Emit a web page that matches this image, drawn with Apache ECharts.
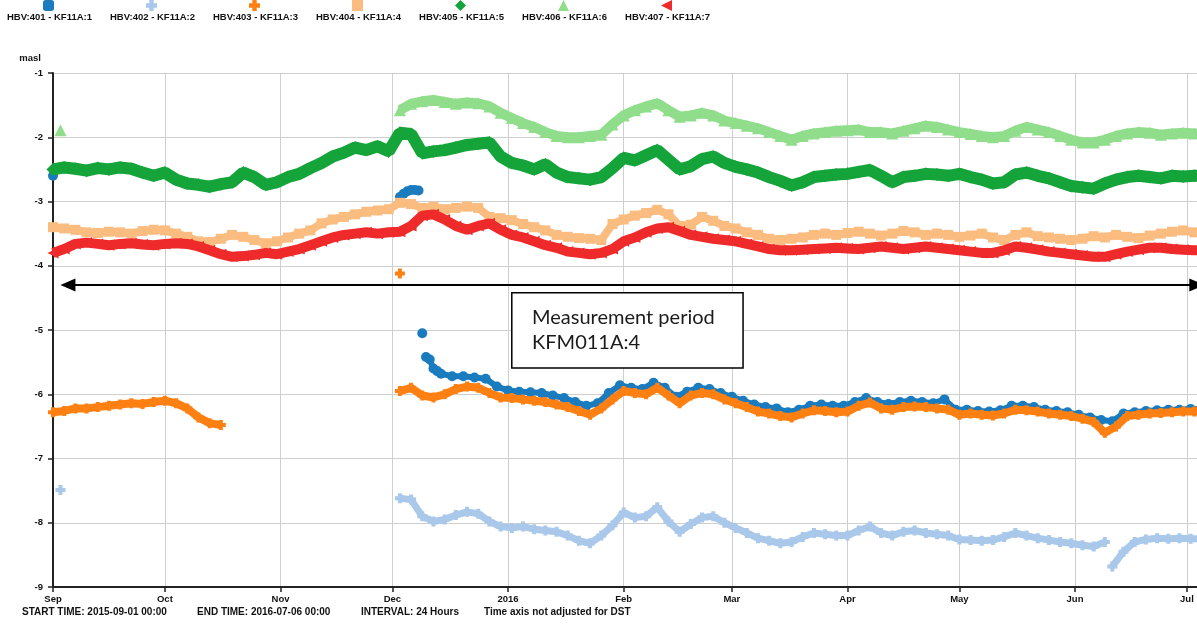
<!DOCTYPE html>
<html>
<head>
<meta charset="utf-8">
<title>HBV groundwater levels KF11A</title>
<script src="https://cdn.jsdelivr.net/npm/echarts@6/dist/echarts.min.js"></script>
<style>
  html, body { margin: 0; padding: 0; background: #fff; }
  #chart { width: 1197px; height: 624px; }
</style>
</head>
<body>
<div id="chart"></div>
<script>
// ---- Series names and tick labels ----
const seriesNames = ['HBV:401 - KF11A:1', 'HBV:402 - KF11A:2', 'HBV:403 - KF11A:3', 'HBV:404 - KF11A:4',
                     'HBV:405 - KF11A:5', 'HBV:406 - KF11A:6', 'HBV:407 - KF11A:7'];
const monthLabels = ['Jan', 'Feb', 'Mar', 'Apr', 'May', 'Jun', 'Jul', 'Aug', 'Sep', 'Oct', 'Nov', 'Dec'];
const axisStart = '2015-09-01';
const footerTexts = ['START TIME: 2015-09-01 00:00', 'END TIME: 2016-07-06 00:00', 'INTERVAL: 24 Hours', 'Time axis not adjusted for DST'];
const annotationLines = ['Measurement period', 'KFM011A:4'];

// ---- Levels (masl). Each block starts at the given date with a fixed step in days ----
// HBV:401
const hbv401Sep = [-2.60];
const hbv401DecHigh = [-2.93, -2.88, -2.84, -2.82, -2.82, -2.83];
const hbv401Dec9 = [-5.05];
const hbv401DecFall = [-5.42, -5.46, -5.60, -5.64];
const hbv401Main = [
  -5.68, -5.72, -5.72, -5.74, -5.76, -5.88, -5.94, -5.96, -5.97, -5.98,
  -6.02, -6.06, -6.12, -6.18, -6.14, -5.98, -5.86, -5.90, -5.92, -5.82,
  -5.90, -6.04, -5.96, -5.90, -5.92, -5.98, -6.04, -6.10, -6.16, -6.20,
  -6.22, -6.28, -6.24, -6.18, -6.16, -6.18, -6.18, -6.12, -6.06, -6.12,
  -6.15, -6.12, -6.10, -6.12, -6.14, -6.08, -6.24, -6.24, -6.26, -6.27,
  -6.25, -6.18, -6.18, -6.20, -6.24, -6.26, -6.28, -6.32, -6.36, -6.40,
  -6.42, -6.30, -6.28, -6.26, -6.25, -6.24, -6.24, -6.23, -6.23];
// HBV:402
const hbv402Sep = [-7.49];
const hbv402Main = [
  -7.62, -7.64, -7.90, -7.98, -7.95, -7.88, -7.83, -7.86, -7.98, -8.06,
  -8.08, -8.06, -8.10, -8.12, -8.14, -8.20, -8.28, -8.32, -8.20, -8.04,
  -7.84, -7.92, -7.90, -7.76, -7.98, -8.14, -8.02, -7.92, -7.90, -8.00,
  -8.08, -8.16, -8.24, -8.28, -8.32, -8.30, -8.22, -8.16, -8.18, -8.20,
  -8.20, -8.12, -8.06, -8.16, -8.20, -8.14, -8.12, -8.16, -8.18, -8.20,
  -8.26, -8.27, -8.28, -8.27, -8.22, -8.16, -8.20, -8.24, -8.27, -8.30,
  -8.32, -8.35, -8.37, -8.30];
const hbv402Jun = [-8.68, -8.45, -8.30, -8.26, -8.24, -8.25, -8.24, -8.25, -8.25];
// HBV:403
const hbv403Early = [-6.28, -6.26, -6.22, -6.22, -6.20, -6.18, -6.16, -6.14, -6.15, -6.12,
                     -6.10, -6.14, -6.22, -6.36, -6.45, -6.48];
const hbv403Dec3 = [-4.12];
const hbv403Main = [
  -5.95, -5.90, -6.02, -6.05, -6.00, -5.92, -5.88, -5.90, -5.98, -6.05,
  -6.06, -6.08, -6.10, -6.12, -6.16, -6.20, -6.26, -6.32, -6.22, -6.08,
  -5.95, -5.98, -6.00, -5.90, -6.02, -6.14, -6.02, -5.98, -6.00, -6.08,
  -6.14, -6.20, -6.27, -6.30, -6.34, -6.36, -6.30, -6.25, -6.26, -6.28,
  -6.27, -6.18, -6.13, -6.22, -6.24, -6.20, -6.19, -6.20, -6.22, -6.24,
  -6.32, -6.30, -6.32, -6.33, -6.30, -6.24, -6.25, -6.27, -6.30, -6.32,
  -6.34, -6.38, -6.43, -6.60, -6.50, -6.34, -6.32, -6.30, -6.29, -6.28,
  -6.27, -6.27, -6.27];
// HBV:404
const hbv404 = [
  -3.40, -3.42, -3.44, -3.48, -3.49, -3.47, -3.48, -3.50, -3.46, -3.44,
  -3.45, -3.50, -3.55, -3.62, -3.63, -3.58, -3.52, -3.55, -3.60, -3.65,
  -3.62, -3.56, -3.50, -3.45, -3.34, -3.28, -3.24, -3.20, -3.16, -3.14,
  -3.12, -3.02, -3.04, -3.10, -3.08, -3.12, -3.10, -3.08, -3.10, -3.24,
  -3.26, -3.29, -3.35, -3.40, -3.45, -3.52, -3.55, -3.57, -3.58, -3.60,
  -3.35, -3.28, -3.22, -3.18, -3.13, -3.20, -3.38, -3.36, -3.24, -3.30,
  -3.38, -3.42, -3.48, -3.52, -3.58, -3.60, -3.58, -3.56, -3.52, -3.50,
  -3.52, -3.49, -3.47, -3.50, -3.53, -3.50, -3.46, -3.48, -3.52, -3.50,
  -3.52, -3.55, -3.53, -3.50, -3.56, -3.60, -3.52, -3.48, -3.54, -3.56,
  -3.58, -3.60, -3.58, -3.54, -3.56, -3.52, -3.55, -3.57, -3.53, -3.50,
  -3.47, -3.45, -3.48, -3.47];
// HBV:405
const hbv405 = [
  -2.50, -2.47, -2.49, -2.52, -2.48, -2.50, -2.47, -2.49, -2.55, -2.60,
  -2.55, -2.66, -2.72, -2.74, -2.77, -2.73, -2.70, -2.55, -2.62, -2.74,
  -2.70, -2.62, -2.57, -2.48, -2.40, -2.30, -2.24, -2.16, -2.20, -2.14,
  -2.22, -1.93, -1.95, -2.25, -2.22, -2.20, -2.16, -2.12, -2.10, -2.08,
  -2.30, -2.40, -2.44, -2.50, -2.42, -2.55, -2.62, -2.64, -2.66, -2.62,
  -2.48, -2.32, -2.36, -2.28, -2.20, -2.35, -2.50, -2.45, -2.34, -2.30,
  -2.40, -2.46, -2.50, -2.55, -2.62, -2.68, -2.75, -2.70, -2.62, -2.60,
  -2.58, -2.57, -2.54, -2.51, -2.60, -2.70, -2.62, -2.60, -2.57, -2.58,
  -2.60, -2.57, -2.62, -2.66, -2.72, -2.70, -2.58, -2.55, -2.60, -2.64,
  -2.70, -2.76, -2.78, -2.80, -2.72, -2.66, -2.62, -2.60, -2.62, -2.64,
  -2.60, -2.61, -2.60, -2.60];
// HBV:406
const hbv406Sep = [-1.89];
const hbv406Main = [
  -1.58, -1.48, -1.44, -1.42, -1.45, -1.48, -1.46, -1.47, -1.52, -1.62,
  -1.70, -1.78, -1.84, -1.92, -1.98, -2.00, -2.00, -1.98, -1.96, -1.80,
  -1.66, -1.58, -1.52, -1.47, -1.58, -1.68, -1.66, -1.62, -1.66, -1.74,
  -1.78, -1.82, -1.86, -1.92, -1.98, -2.04, -1.98, -1.94, -1.92, -1.90,
  -1.89, -1.88, -1.92, -1.92, -1.94, -1.90, -1.86, -1.82, -1.84, -1.88,
  -1.92, -1.95, -1.98, -2.00, -1.98, -1.90, -1.84, -1.88, -1.92, -1.98,
  -2.04, -2.08, -2.08, -2.04, -1.98, -1.94, -1.92, -1.93, -1.96, -1.94,
  -1.93, -1.94, -1.94];
// HBV:407
const hbv407 = [
  -3.80, -3.74, -3.66, -3.64, -3.66, -3.68, -3.66, -3.65, -3.67, -3.68,
  -3.66, -3.65, -3.66, -3.70, -3.76, -3.82, -3.86, -3.85, -3.83, -3.80,
  -3.82, -3.78, -3.74, -3.68, -3.62, -3.56, -3.52, -3.50, -3.48, -3.50,
  -3.48, -3.47, -3.38, -3.22, -3.20, -3.28, -3.38, -3.44, -3.38, -3.34,
  -3.44, -3.52, -3.56, -3.62, -3.68, -3.72, -3.78, -3.80, -3.82, -3.80,
  -3.74, -3.62, -3.56, -3.48, -3.42, -3.40, -3.46, -3.52, -3.55, -3.58,
  -3.60, -3.62, -3.66, -3.70, -3.74, -3.76, -3.76, -3.75, -3.74, -3.73,
  -3.72, -3.73, -3.74, -3.72, -3.70, -3.72, -3.74, -3.72, -3.70, -3.72,
  -3.74, -3.76, -3.78, -3.80, -3.80, -3.76, -3.70, -3.72, -3.75, -3.78,
  -3.80, -3.82, -3.84, -3.86, -3.86, -3.82, -3.78, -3.75, -3.72, -3.72,
  -3.74, -3.75, -3.76, -3.75];

// ---- Record blocks per series: start date, step (days), values ----
const seriesBlocks = [
  [{ from: '2015-09-01', step: 1, values: hbv401Sep },
   { from: '2015-12-03', step: 1, values: hbv401DecHigh },
   { from: '2015-12-09', step: 1, values: hbv401Dec9 },
   { from: '2015-12-10', step: 1, values: hbv401DecFall },
   { from: '2015-12-14', step: 3, values: hbv401Main }],
  [{ from: '2015-09-03', step: 1, values: hbv402Sep },
   { from: '2015-12-03', step: 3, values: hbv402Main },
   { from: '2016-06-11', step: 3, values: hbv402Jun }],
  [{ from: '2015-09-01', step: 3, values: hbv403Early },
   { from: '2015-12-03', step: 1, values: hbv403Dec3 },
   { from: '2015-12-03', step: 3, values: hbv403Main }],
  [{ from: '2015-09-01', step: 3, values: hbv404 }],
  [{ from: '2015-09-01', step: 3, values: hbv405 }],
  [{ from: '2015-09-03', step: 1, values: hbv406Sep },
   { from: '2015-12-03', step: 3, values: hbv406Main }],
  [{ from: '2015-09-01', step: 3, values: hbv407 }]
];

// ---- Styling ----
const DAY = 86400000;
const PLUS = 'path://M3,0H7V3H10V7H7V10H3V7H0V3H3Z';
const LEFT_TRI = 'path://M0,5L10,0L10,10Z';
const seriesColors = ['#1a7bbf', '#a9c8ea', '#ff8012', '#fbbc80', '#14a43a', '#90dd8b', '#ef2a2a'];
const seriesSymbols = ['circle', PLUS, PLUS, 'rect', 'diamond', 'triangle', LEFT_TRI];
const legendIcons = ['roundRect', PLUS, PLUS, 'rect', 'diamond', 'triangle', LEFT_TRI];
const symbolSizes = [10, 10, 10, 10, 13, 12, 11];
const lineWidths = [6, 7, 8, 8, 12, 10, 10];
const FONT = '"Liberation Sans", Arial, sans-serif';

function dayTs(str) {
  const p = str.split('-');
  return new Date(+p[0], +p[1] - 1, +p[2]).getTime();
}

function blocksToData(blocks) {
  const out = [];
  blocks.forEach(function (b, k) {
    const t0 = dayTs(b.from);
    if (k > 0) out.push([t0, '-']);
    b.values.forEach(function (v, i) { out.push([t0 + i * b.step * DAY, v]); });
  });
  return out;
}

// Visible end of the time axis: the chart is cut at the right edge, a few days before the end time
const axisVisibleEnd = dayTs('2016-07-03') + 0.7 * DAY;

const series = seriesNames.map(function (name, i) {
  return {
    type: 'line',
    name: name,
    data: blocksToData(seriesBlocks[i]),
    symbol: seriesSymbols[i],
    symbolSize: symbolSizes[i],
    showSymbol: true,
    showAllSymbol: true,
    connectNulls: false,
    clip: false,
    itemStyle: { color: seriesColors[i] },
    lineStyle: { color: seriesColors[i], width: lineWidths[i] },
    emphasis: { disabled: true },
    z: 2 + i
  };
});

// Measurement period arrow and label box
series.push({
  type: 'line',
  name: 'period',
  data: [],
  silent: true,
  clip: false,
  z: 10,
  markLine: {
    silent: true,
    symbol: ['triangle', 'triangle'],
    symbolSize: [13, 15],
    label: { show: false },
    lineStyle: { color: '#000', width: 2, type: 'solid' },
    data: [[{ coord: [dayTs('2015-09-05'), -4.3] }, { coord: [axisVisibleEnd - 0.05 * DAY, -4.3] }]]
  },
  markArea: {
    silent: true,
    itemStyle: { color: '#fff', borderColor: '#000', borderWidth: 1.5 },
    label: {
      show: true,
      position: 'insideLeft',
      distance: 21,
      formatter: annotationLines.join('\n'),
      fontFamily: 'Lato, "Open Sans", sans-serif',
      fontSize: 20,
      lineHeight: 25,
      color: '#1b1b1b',
      align: 'left'
    },
    data: [[{ coord: [dayTs('2016-01-02'), -4.42] }, { coord: [dayTs('2016-03-04'), -5.59] }]]
  }
});

const chart = echarts.init(document.getElementById('chart'), null, { renderer: 'canvas' });

chart.setOption({
  animation: false,
  backgroundColor: '#fff',
  textStyle: { fontFamily: FONT },
  legend: [
    {
      // symbols row
      top: 0, left: 43, padding: 0,
      itemWidth: 11, itemHeight: 11, itemGap: 84.5,
      selectedMode: false,
      formatter: function () { return '\u00a0'; },
      textStyle: { fontSize: 9 },
      data: seriesNames.map(function (n, i) { return { name: n, icon: legendIcons[i] }; })
    },
    {
      // names row
      top: 12, left: 2, padding: 0,
      itemWidth: 0, itemHeight: 0, itemGap: 13,
      selectedMode: false,
      icon: 'rect',
      textStyle: { fontFamily: FONT, fontSize: 9.5, fontWeight: 'bold', color: '#111' },
      data: seriesNames
    }
  ],
  grid: { left: 53, top: 73, bottom: 37, right: 0, containLabel: false },
  xAxis: {
    type: 'time',
    min: dayTs(axisStart),
    max: axisVisibleEnd,
    splitNumber: 10,
    minInterval: 28 * DAY,
    maxInterval: 32 * DAY,
    axisLine: { lineStyle: { color: '#222', width: 2 } },
    axisTick: { show: true, length: 5, lineStyle: { color: '#222', width: 1.5 } },
    axisLabel: {
      fontFamily: FONT, fontSize: 9.5, fontWeight: 'bold', color: '#111', margin: 7,
      showMaxLabel: false,
      formatter: function (v) {
        const d = new Date(v);
        return d.getMonth() === 0 ? String(d.getFullYear()) : monthLabels[d.getMonth()];
      }
    },
    splitLine: { show: true, lineStyle: { color: '#cfcfcf', width: 1 } }
  },
  yAxis: {
    type: 'value',
    min: -9, max: -1, interval: 1,
    name: 'masl',
    nameLocation: 'end',
    nameGap: 10,
    nameTextStyle: { fontFamily: FONT, fontSize: 9.5, fontWeight: 'bold', color: '#111', align: 'right', padding: [0, 12, 0, 0] },
    axisLine: { show: true, lineStyle: { color: '#222', width: 2 } },
    axisTick: { show: true, length: 5, lineStyle: { color: '#222', width: 1.5 } },
    axisLabel: { fontFamily: FONT, fontSize: 9.5, fontWeight: 'bold', color: '#111', margin: 10 },
    splitLine: { show: true, lineStyle: { color: '#cfcfcf', width: 1 } }
  },
  graphic: footerTexts.map(function (txt, i) {
    const lefts = [22, 197, 361, 484];
    return {
      type: 'text', left: lefts[i], top: 607, silent: true,
      style: { text: txt, fill: '#111', font: 'bold 10px ' + FONT }
    };
  }),
  series: series
});
</script>
</body>
</html>
